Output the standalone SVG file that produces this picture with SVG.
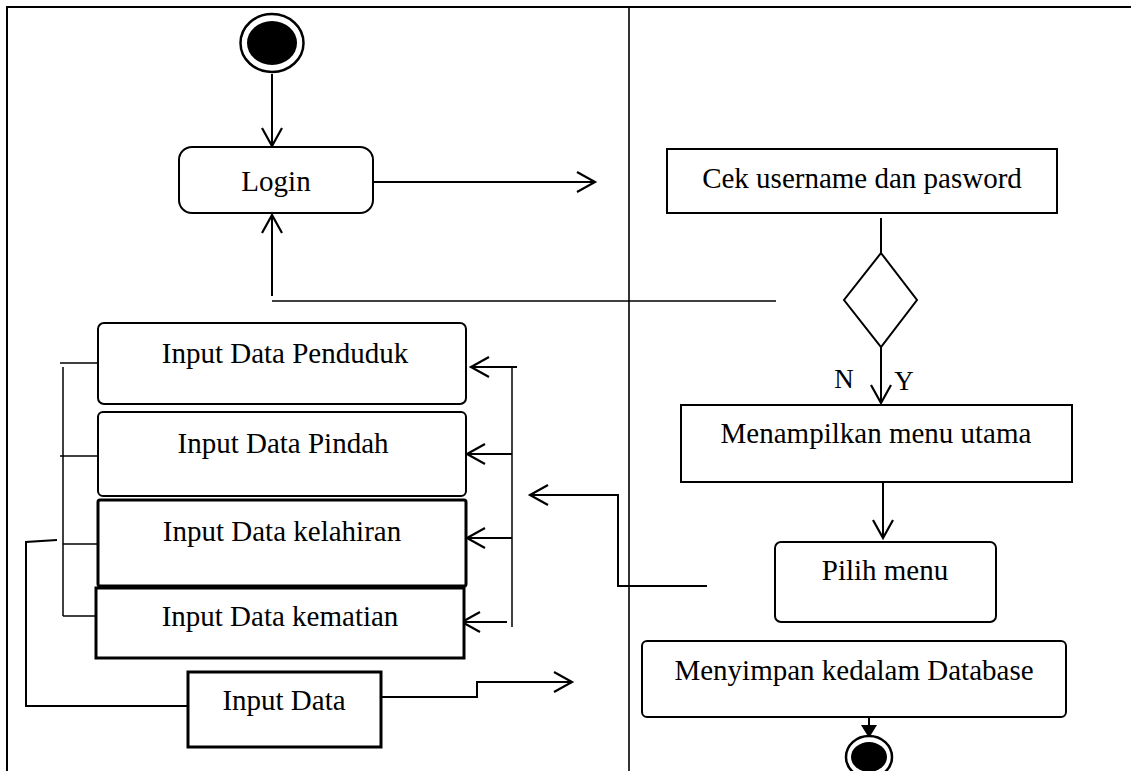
<svg xmlns="http://www.w3.org/2000/svg" width="1131" height="771" viewBox="0 0 1131 771">
<style>
.box{fill:#fff;stroke:#000;stroke-width:2}
.thick{fill:#fff;stroke:#000;stroke-width:3}
.ln{fill:none;stroke:#000;stroke-width:2}
.thin{fill:none;stroke:#000;stroke-width:1.5}
.t{font-family:"Liberation Serif","Times New Roman",serif;font-size:29px;fill:#000;text-anchor:middle}
</style>
<defs>
<marker id="open" markerUnits="userSpaceOnUse" viewBox="-20 -12 24 24" markerWidth="24" markerHeight="24" refX="0" refY="0" orient="auto" overflow="visible">
<path d="M-18,-10 L0,0 L-18,10" fill="none" stroke="#000" stroke-width="2.2"/>
</marker>
<marker id="solid" markerUnits="userSpaceOnUse" viewBox="-14 -9 16 18" markerWidth="16" markerHeight="18" refX="0" refY="0" orient="auto" overflow="visible">
<path d="M-13,-8 L0,0 L-13,8 Z" fill="#000"/>
</marker>
</defs>
<rect width="1131" height="771" fill="#fff"/>
<g id="frame">
<line x1="6" y1="7" x2="1131" y2="7" stroke="#000" stroke-width="2"/>
<line x1="7" y1="6" x2="7" y2="771" stroke="#000" stroke-width="2"/>
<line x1="629" y1="7" x2="629" y2="771" stroke="#000" stroke-width="1.6"/>
</g>
<g id="connectors">
<line class="ln" x1="272" y1="74" x2="272" y2="146" marker-end="url(#open)"/>
<line class="ln" x1="373" y1="182" x2="595" y2="182" marker-end="url(#open)"/>
<polyline class="thin" points="776,301 272,301"/>
<line class="ln" x1="272" y1="296" x2="272" y2="215" marker-end="url(#open)"/>
<line class="ln" x1="881" y1="218" x2="881" y2="253"/>
<line class="ln" x1="881" y1="347" x2="881" y2="403" marker-end="url(#open)"/>
<line class="ln" x1="883" y1="482" x2="883" y2="538" marker-end="url(#open)"/>
<polyline class="ln" points="707,586 618,586 618,495 530,495" marker-end="url(#open)"/>
<line class="ln" x1="869" y1="717" x2="869" y2="738" marker-end="url(#solid)"/>
<line class="thin" x1="512" y1="367" x2="512" y2="627"/>
<line class="ln" x1="517" y1="367" x2="471" y2="367" marker-end="url(#open)"/>
<line class="ln" x1="512" y1="454" x2="467" y2="454" marker-end="url(#open)"/>
<line class="ln" x1="512" y1="538" x2="467" y2="538" marker-end="url(#open)"/>
<line class="ln" x1="507" y1="622" x2="462" y2="622" marker-end="url(#open)"/>
<line class="thin" x1="63" y1="367" x2="63" y2="616"/>
<line class="thin" x1="60" y1="363" x2="98" y2="363"/>
<line class="thin" x1="60" y1="456" x2="98" y2="456"/>
<line class="thin" x1="63" y1="544" x2="98" y2="544"/>
<line class="thin" x1="63" y1="616" x2="96" y2="616"/>
<polyline class="ln" points="188,706 26,706 26,542 57,540"/>
<polyline class="ln" points="381,697 477,697 477,682 572,682" marker-end="url(#open)"/>
</g>
<g id="start">
<ellipse cx="272" cy="43" rx="31.5" ry="29" fill="#fff" stroke="#000" stroke-width="2.5"/>
<ellipse cx="272" cy="43" rx="25" ry="22" fill="#000"/>
</g>
<g id="login">
<rect class="box" x="179" y="147" width="194" height="66" rx="13"/>
<text class="t" x="276" y="191">Login</text>
</g>
<g id="cek">
<rect class="box" x="667" y="149" width="390" height="64"/>
<text class="t" x="862" y="188">Cek username dan pasword</text>
</g>
<g id="decision">
<polygon class="ln" points="881,253 917,300 881,347 844,300"/>
<text class="t" x="844" y="388" style="font-size:27px">N</text>
<text class="t" x="904" y="390" style="font-size:27px">Y</text>
</g>
<g id="menu-utama">
<rect class="box" x="681" y="405" width="391" height="77"/>
<text class="t" x="876" y="443">Menampilkan menu utama</text>
</g>
<g id="pilih-menu">
<rect class="box" x="775" y="542" width="221" height="80" rx="6"/>
<text class="t" x="885" y="580">Pilih menu</text>
</g>
<g id="menyimpan">
<rect class="box" x="642" y="641" width="424" height="76" rx="5"/>
<text class="t" x="854" y="680">Menyimpan kedalam Database</text>
</g>
<g id="end">
<ellipse cx="869" cy="757" rx="23" ry="21" fill="#fff" stroke="#000" stroke-width="2.5"/>
<ellipse cx="869" cy="757" rx="18" ry="15" fill="#000"/>
</g>
<g id="penduduk">
<rect class="box" x="98" y="323" width="368" height="81" rx="6"/>
<text class="t" x="285" y="363">Input Data Penduduk</text>
</g>
<g id="pindah">
<rect class="box" x="98" y="412" width="368" height="84" rx="5"/>
<text class="t" x="283" y="453">Input Data Pindah</text>
</g>
<g id="kelahiran">
<rect class="thick" x="98" y="500" width="368" height="86" rx="2"/>
<text class="t" x="282" y="541">Input Data kelahiran</text>
</g>
<g id="kematian">
<rect class="thick" x="96" y="588" width="368" height="70"/>
<text class="t" x="280" y="626">Input Data kematian</text>
</g>
<g id="input-data">
<rect class="thick" x="188" y="672" width="193" height="75"/>
<text class="t" x="284" y="710">Input Data</text>
</g>
</svg>
